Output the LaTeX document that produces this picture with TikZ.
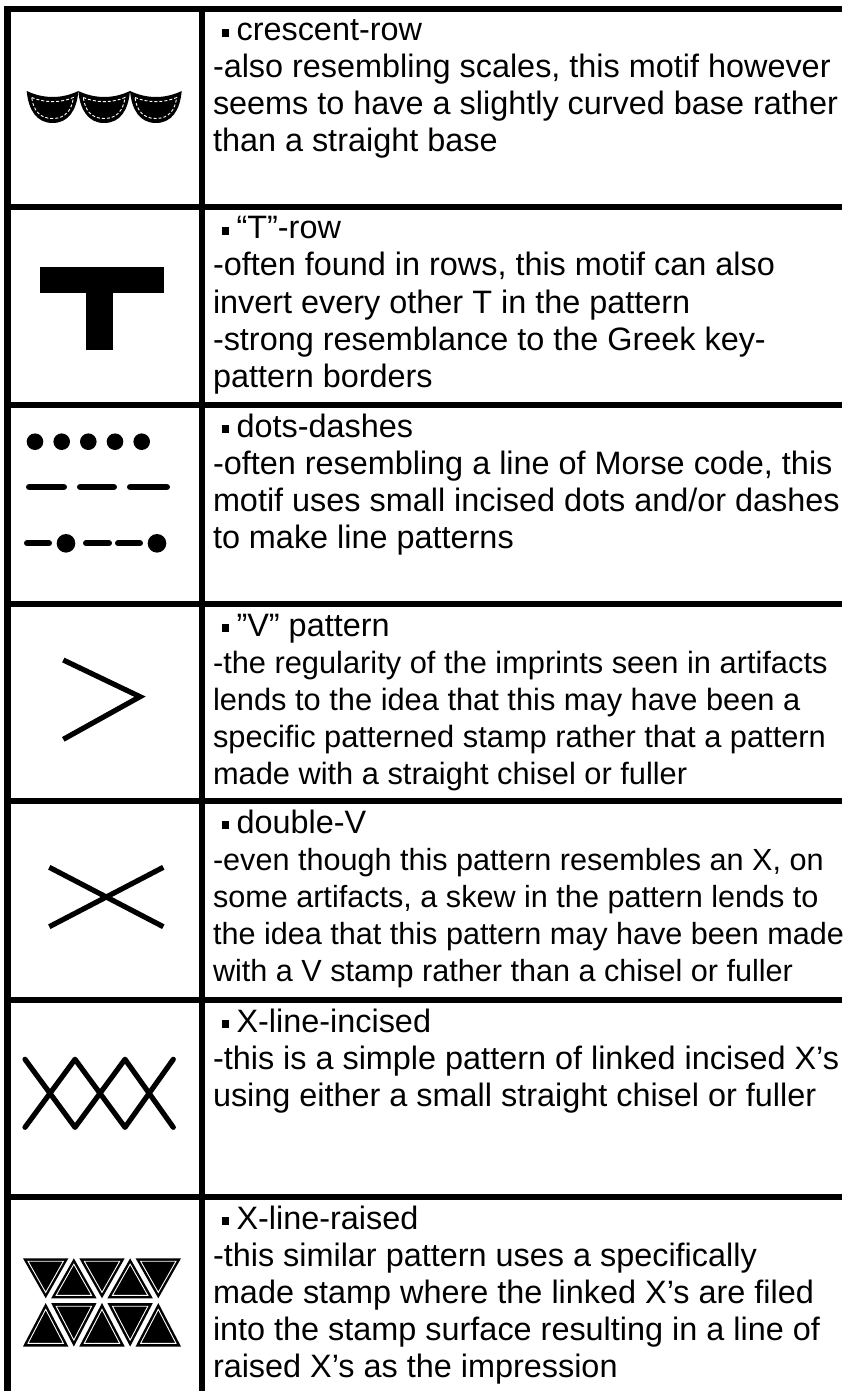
\documentclass[tikz,border=0pt]{standalone}
\usepackage{fontspec}
\setmainfont{Liberation Sans}
\newcommand\bul{\rule[0.13em]{0.23em}{0.23em}\hspace{0.22em}}
\newcommand\trdn[3]{%
  \fill ({#1-22.7},#2) -- ({#1+22.7},#2) -- (#1,{#2+#3}) -- cycle;
  \draw[inline] ({#1-17.7},{#2+0.0733*#3}) -- ({#1+17.7},{#2+0.0733*#3}) -- (#1,{#2+0.853*#3}) -- cycle;}
\newcommand\trup[3]{%
  \fill (#1,#2) -- ({#1+22.7},{#2+#3}) -- ({#1-22.7},{#2+#3}) -- cycle;
  \draw[inline] (#1,{#2+0.1467*#3}) -- ({#1+17.7},{#2+0.9267*#3}) -- ({#1-17.7},{#2+0.9267*#3}) -- cycle;}
\begin{document}
\begin{tikzpicture}[x=0.5pt,y=-0.5pt,
  grid/.style={line width=3.25pt},
  txt/.style={anchor=base west, inner sep=0pt, outer sep=0pt, font=\fontsize{16.2}{18.5}\selectfont},
  txtb/.style={txt, font=\fontsize{15.4}{18.5}\selectfont},
  txtc/.style={txt, font=\fontsize{15.3}{18.5}\selectfont},
  inline/.style={draw=white, line width=0.45pt},
  motif/.style={line width=2.6pt},
]
\useasboundingbox (0,0) rectangle (842,1391);
% table grid
\draw[grid] (4,9) -- (842,9);
\foreach \yy in {207,405,604,801,1000,1197} \draw[grid] (4,\yy) -- (842,\yy);
\draw[grid] (7.5,5.75) -- (7.5,1391);
\draw[grid] (202,5.75) -- (202,1391);

% row 1: crescent-row
\foreach \x in {26.7,78.3,130} {
  \fill (\x,91) .. controls ({\x+17},99) and ({\x+35},99) .. ({\x+51.7},91)
     .. controls ({\x+50},110) and ({\x+42},123) .. ({\x+25.85},123)
     .. controls ({\x+10},123) and ({\x+1.7},110) .. (\x,91) -- cycle;
  \draw[white, line width=0.45pt, dash pattern=on 1.5pt off 1pt]
     ({\x+5},97.5) .. controls ({\x+18},103) and ({\x+34},103) .. ({\x+46.7},97.5)
     .. controls ({\x+45},110) and ({\x+39},118.5) .. ({\x+25.85},118.5)
     .. controls ({\x+12.7},118.5) and ({\x+6.7},110) .. ({\x+5},97.5);
}
% row 2: T
\fill (40,267) rectangle (164,293);
\fill (86,293) rectangle (113,350);
% row 3: dots-dashes
\foreach \x in {35,61.7,88.3,115,141.7} \fill (\x,441.7) circle (8.3);
\draw[line width=3.35pt, line cap=round] (29.3,487) -- (63.7,487) (80.3,487) -- (113.7,487) (130.3,487) -- (166.7,487);
\draw[line width=3pt, line cap=round] (27,543.3) -- (49,543.3) (86,543.3) -- (109,543.3) (118,543.3) -- (140,543.3);
\fill (66,543.3) circle (9.3);
\fill (157,543.3) circle (9.3);
% row 4: V
\draw[motif, line join=miter] (63.3,660) -- (140,696.7) -- (63.3,739.3);
% row 5: double V
\draw[motif] (49.3,867.3) -- (163.3,926.7);
\draw[motif] (49.3,926.7) -- (163.3,867.3);
% row 6: X-line incised
\draw[motif, line cap=round, line join=round] (25,1059.3) -- (75,1127.3) -- (125,1059.3) -- (173.3,1127.3);
\draw[motif, line cap=round, line join=round] (25,1127.3) -- (75,1059.3) -- (125,1127.3) -- (173.3,1059.3);
% row 7: X-line raised
\trdn{45.7}{1258.3}{40}
\trup{73.85}{1258.3}{40}
\trdn{102}{1258.3}{40}
\trup{130.15}{1258.3}{40}
\trdn{158.3}{1258.3}{40}
\trup{45.7}{1303}{43.5}
\trdn{73.85}{1303}{43.5}
\trup{102}{1303}{43.5}
\trdn{130.15}{1303}{43.5}
\trup{158.3}{1303}{43.5}

% texts
\node[txt] (t1a) at (222,41) {\bul crescent-row};
\node[txt] (t1b) at (213,78) {-also resembling scales, this motif however};
\node[txt] (t1c) at (213,115) {seems to have a slightly curved base rather};
\node[txt] (t1d) at (213,152) {than a straight base};

\node[txt] (t2a) at (222,239) {\bul “T”-row};
\node[txt] (t2b) at (213,276) {-often found in rows, this motif can also};
\node[txt] (t2c) at (213,313) {invert every other T in the pattern};
\node[txt] (t2d) at (213,350) {-strong resemblance to the Greek key-};
\node[txt] (t2e) at (213,387) {pattern borders};

\node[txt] (t3a) at (222,437) {\bul dots-dashes};
\node[txt] (t3b) at (213,474) {-often resembling a line of Morse code, this};
\node[txt] (t3c) at (213,511) {motif uses small incised dots and/or dashes};
\node[txt] (t3d) at (213,548) {to make line patterns};

\node[txt] (t4a) at (222,636) {\bul ”V” pattern};
\node[txtb] (t4b) at (213,673) {-the regularity of the imprints seen in artifacts};
\node[txtb] (t4c) at (213,710) {lends to the idea that this may have been a};
\node[txtb] (t4d) at (213,747) {specific patterned stamp rather that a pattern};
\node[txtb] (t4e) at (213,784) {made with a straight chisel or fuller};

\node[txt] (t5a) at (222,833) {\bul double-V};
\node[txtc] (t5b) at (213,870) {-even though this pattern resembles an X, on};
\node[txtc] (t5c) at (213,907) {some artifacts, a skew in the pattern lends to};
\node[txtc] (t5d) at (213,944) {the idea that this pattern may have been made};
\node[txtc] (t5e) at (213,981) {with a V stamp rather than a chisel or fuller};

\node[txt] (t6a) at (222,1032) {\bul X-line-incised};
\node[txt] (t6b) at (213,1069) {-this is a simple pattern of linked incised X’s};
\node[txt] (t6c) at (213,1106) {using either a small straight chisel or fuller};

\node[txt] (t7a) at (222,1229) {\bul X-line-raised};
\node[txt] (t7b) at (213,1266) {-this similar pattern uses a specifically};
\node[txt] (t7c) at (213,1303) {made stamp where the linked X’s are filed};
\node[txt] (t7d) at (213,1340) {into the stamp surface resulting in a line of};
\node[txt] (t7e) at (213,1377) {raised X’s as the impression};
\end{tikzpicture}
\end{document}
